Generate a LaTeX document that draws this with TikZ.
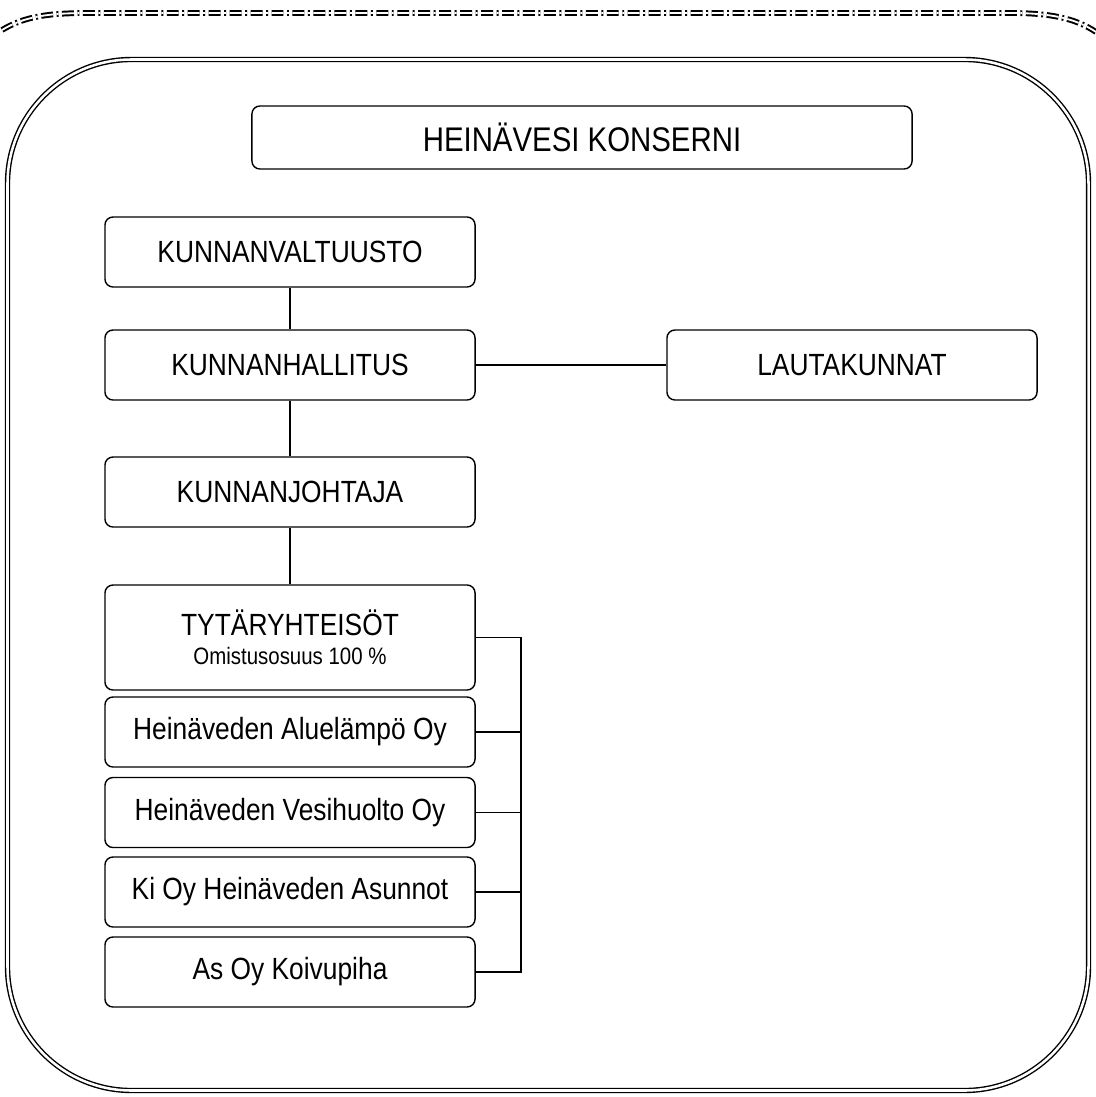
\documentclass[tikz,border=0pt]{standalone}
\usepackage{fontspec}
\setmainfont[FakeStretch=0.86]{Liberation Sans}
\usepackage{tikz}
\tikzset{%
  orgbox/.style    = {shape=rectangle, rounded corners=2mm,%
                      draw, line width=1pt, align=center, inner sep=0pt,%
                      minimum width=9.25cm, minimum height=1.75cm,%
                      font=\fontsize{21.8}{24}\selectfont},%
  headbox/.style   = {orgbox, minimum width=16.5cm, minimum height=1.575cm,%
                      font=\fontsize{24.3}{27}\selectfont},%
  unitbox/.style   = {orgbox, minimum height=2.625cm},%
  konsframe/.style = {double, double distance=1.8pt, line width=1pt,%
                      rounded corners=3.1cm},%
  scanedge/.style  = {double, double distance=1.3pt, line width=1.4pt,%
                      dash pattern=on 8.5pt off 2.5pt on 1.4pt off 2.5pt}%
}
\newcommand{\subline}[1]{{\fontsize{16.9}{19}\selectfont #1}}

\begin{document}
\begin{tikzpicture}[x=0.025cm, y=-0.025cm, line width=1pt]
  \useasboundingbox (0,0) rectangle (1096,1097);
  % page edge and frame
  \draw[scanedge] (2,30) .. controls (25,16) and (50,13) .. (90,13)
    -- (1010,13) .. controls (1050,13) and (1075,18) .. (1096,32);
  \draw[konsframe] (7.5,59.5) rectangle (1088.5,1090.5);

  \node[headbox] (konserni) at (582,137.5) {HEINÄVESI KONSERNI};

  \node[orgbox] (valtuusto) at (290,252) {KUNNANVALTUUSTO};
  \node[orgbox] (hallitus)  at (290,365) {KUNNANHALLITUS};
  \node[orgbox] (lauta)     at (852,365) {LAUTAKUNNAT};
  \node[orgbox] (johtaja)   at (290,492) {KUNNANJOHTAJA};
  \node[unitbox] (tytar)    at (290,637.5)
    {TYTÄRYHTEISÖT\\[-3pt]\subline{Omistusosuus 100 \%}};
  \node[orgbox] (aluelampo) at (290,732) {Heinäveden Aluelämpö Oy};
  \node[orgbox] (vesihuolto) at (290,812.5) {Heinäveden Vesihuolto Oy};
  \node[orgbox] (asunnot)   at (290,892) {Ki Oy Heinäveden Asunnot};
  \node[orgbox] (koivupiha) at (290,972) {As Oy Koivupiha};

  \draw (valtuusto) -- (hallitus);
  \draw (hallitus) -- (johtaja);
  \draw (johtaja) -- (tytar);
  \draw (hallitus) -- (lauta);

  % bracket for the companies
  \coordinate (bar) at (521,637.5);
  \draw (tytar.east) -- (bar) |- (koivupiha.east);
  \foreach \yht in {aluelampo, vesihuolto, asunnot}
    \draw (\yht.east) -- (\yht.east -| bar);
\end{tikzpicture}
\end{document}
